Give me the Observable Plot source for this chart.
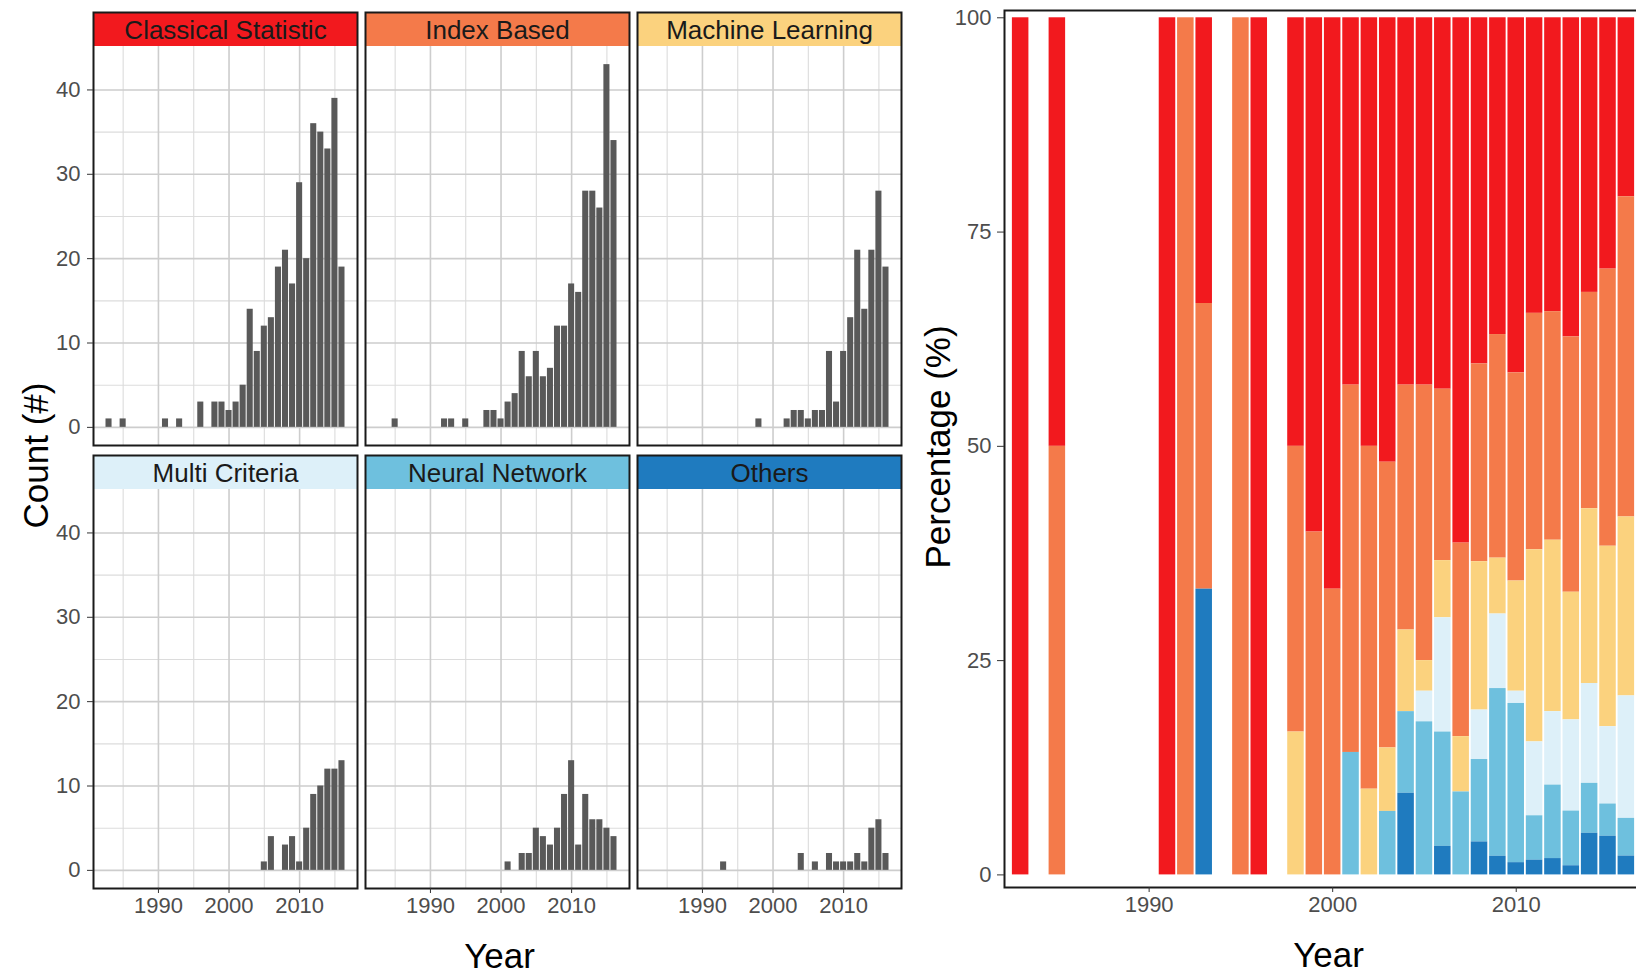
<!DOCTYPE html>
<html>
<head>
<meta charset="utf-8">
<script src="https://cdn.jsdelivr.net/npm/d3@7"></script>
<script src="https://cdn.jsdelivr.net/npm/@observablehq/plot@0.6"></script>
<style>
html, body { margin: 0; padding: 0; background: #ffffff; overflow: hidden; }
#wrap { position: relative; width: 1636px; height: 979px; overflow: hidden; }
#left { position: absolute; left: 0; top: 0; width: 903px; height: 979px; }
#right { position: absolute; left: 900px; top: 0; width: 742px; height: 979px; }
#wrap svg { max-width: none !important; }
</style>
</head>
<body>
<div id="wrap"><div id="left"></div><div id="right"></div></div>
<script>
// ---------- DATA ----------
const categories = ["Classical Statistic", "Index Based", "Machine Learning", "Multi Criteria", "Neural Network", "Others"];
const categoryColors = ["#F2191E", "#F47A4A", "#FBD27E", "#DDF0F9", "#6EC0DE", "#1F7BBF"];
const years = [1983, 1984, 1985, 1986, 1987, 1988, 1989, 1990, 1991, 1992, 1993, 1994, 1995, 1996, 1997, 1998, 1999,
               2000, 2001, 2002, 2003, 2004, 2005, 2006, 2007, 2008, 2009, 2010, 2011, 2012, 2013, 2014, 2015, 2016];
const classicalStatistic = [1,0,1,0,0,0,0,0, 1,0,1,0,0,3,0, 3,3,2,3,5, 14,9,12,13,19,21,17,29,20,36,35,33,39,19];
const indexBased         = [0,0,1,0,0,0,0,0, 0,1,1,0,1,0,0, 2,2,1,3,4, 9,6,9,6,7,12,12,17,16,28,28,26,43,34];
const machineLearning    = [0,0,0,0,0,0,0,0, 0,0,0,0,0,0,0, 1,0,0,0,1, 2,2,1,2,2,9,3,9,13,21,14,21,28,19];
const multiCriteria      = [0,0,0,0,0,0,0,0, 0,0,0,0,0,0,0, 0,0,0,0,0, 0,0,1,4,0,3,4,1,5,9,10,12,12,13];
const neuralNetwork      = [0,0,0,0,0,0,0,0, 0,0,0,0,0,0,0, 0,0,0,1,0, 2,2,5,4,3,5,9,13,3,9,6,6,5,4];
const others             = [0,0,0,0,0,0,0,0, 0,0,1,0,0,0,0, 0,0,0,0,0, 0,2,0,1,0,2,1,1,1,2,1,5,6,2];
const countTicks = [0, 10, 20, 30, 40];
const countMinor = [5, 15, 25, 35];
const yearTicks = [1990, 2000, 2010];
const yearMinor = [1985, 1995, 2005, 2015];
const percentTicks = [0, 25, 50, 75, 100];

// ---------- DERIVED TABLES ----------
const seriesCounts = [classicalStatistic, indexBased, machineLearning, multiCriteria, neuralNetwork, others];
const histRows = [];
categories.forEach((cat, k) => years.forEach((yr, i) => {
  const c = seriesCounts[k][i];
  if (c > 0) histRows.push({cat, col: k % 3, row: Math.floor(k / 3), year: yr, count: c});
}));
const facetInfo = categories.map((cat, k) => ({cat, col: k % 3, row: Math.floor(k / 3), color: categoryColors[k]}));

const FONT = "'Liberation Sans', Arial, Helvetica, sans-serif";
const yLo = -2.15, yHi = 45.15, yStrip = 49.18;
const xLo = 1980.8, xHi = 2018.2;

const left = Plot.plot({
  width: 903, height: 979,
  marginLeft: 93, marginRight: 2, marginTop: 12, marginBottom: 91,
  style: {fontFamily: FONT, background: "transparent", overflow: "visible", maxWidth: "none"},
  fx: {domain: [0, 1, 2], paddingInner: 8 / 272, paddingOuter: 0, axis: null, round: false},
  fy: {domain: [0, 1], paddingInner: 10 / 443, paddingOuter: 0, axis: null, round: false},
  x: {domain: [xLo, xHi]},
  y: {domain: [yLo, yStrip]},
  marks: [
    Plot.ruleY(countMinor, {stroke: "#dcdcdc", strokeWidth: 1.1}),
    Plot.ruleX(yearMinor, {y1: yLo, y2: yHi, stroke: "#dcdcdc", strokeWidth: 1.1}),
    Plot.ruleY(countTicks, {stroke: "#cdcdcd", strokeWidth: 1.6}),
    Plot.ruleX(yearTicks, {y1: yLo, y2: yHi, stroke: "#cdcdcd", strokeWidth: 1.6}),
    Plot.rectY(histRows, {fx: "col", fy: "row", x1: d => d.year - 0.5, x2: d => d.year + 0.5, y1: 0, y2: "count",
      fill: "#595959", insetLeft: 0.5, insetRight: 0.5}),
    Plot.rect(facetInfo, {fx: "col", fy: "row", x1: xLo, x2: xHi, y1: yHi, y2: yStrip, fill: "color"}),
    Plot.text(facetInfo, {fx: "col", fy: "row", x: (xLo + xHi) / 2, y: (yHi + yStrip) / 2, text: "cat",
      fontSize: 26, fill: "#1a1a1a", dy: 1}),
    Plot.frame({stroke: "#1a1a1a", strokeWidth: 2}),
    Plot.axisY({ticks: countTicks, tickSize: 6, tickPadding: 7, fontSize: 22, stroke: "#333333", fill: "#4d4d4d", label: null}),
    Plot.axisX({ticks: yearTicks, tickFormat: d => String(d), tickSize: 5, tickPadding: 4, fontSize: 22,
      stroke: "#333333", fill: "#4d4d4d", label: null}),
    Plot.text([{col: 0, row: 0}], {fx: "col", fy: "row", frameAnchor: "bottom-left", text: ["Count (#)"],
      rotate: -90, textAnchor: "middle", lineAnchor: "middle", dx: -57, dy: 10, fontSize: 35, fill: "#000"}),
    Plot.text([{col: 1, row: 1}], {fx: "col", fy: "row", frameAnchor: "bottom", text: ["Year"],
      dy: 79, dx: 2, fontSize: 35, fill: "#000"})
  ]
});
document.getElementById("left").appendChild(left);

// ---------- RIGHT: percentage stacked bars ----------
const pctRows = [];
categories.forEach((cat, k) => years.forEach((yr, i) => {
  const c = seriesCounts[k][i];
  if (c > 0) pctRows.push({cat, year: yr, count: c});
}));
const stackOrder = categories.slice().reverse();

const right = Plot.plot({
  width: 742, height: 979,
  marginLeft: 104, marginRight: 0, marginTop: 10, marginBottom: 92,
  style: {fontFamily: FONT, background: "transparent", overflow: "visible", maxWidth: "none"},
  x: {domain: [1982.12, 2016.88]},
  y: {domain: [-1.47, 100.85], percent: true},
  color: {domain: categories, range: categoryColors},
  marks: [
    Plot.rectY(pctRows, {x1: d => d.year - 0.45, x2: d => d.year + 0.45, y: "count", fill: "cat", z: "cat",
      offset: "normalize", order: stackOrder}),
    Plot.frame({stroke: "#1a1a1a", strokeWidth: 2}),
    Plot.axisY({ticks: percentTicks, tickSize: 7, tickPadding: 6, fontSize: 22, stroke: "#333333", fill: "#4d4d4d", label: null}),
    Plot.axisX({ticks: yearTicks, tickFormat: d => String(d), tickSize: 5, tickPadding: 4, fontSize: 22,
      stroke: "#333333", fill: "#4d4d4d", label: null}),
    Plot.text(["Percentage (%)"], {frameAnchor: "left", text: d => d, rotate: -90, textAnchor: "middle", lineAnchor: "middle",
      dx: -66, dy: -2, fontSize: 35, fill: "#000"}),
    Plot.text(["Year"], {frameAnchor: "bottom", text: d => d, dy: 79, dx: 5, fontSize: 35, fill: "#000"})
  ]
});
document.getElementById("right").appendChild(right);
</script>
</body>
</html>
